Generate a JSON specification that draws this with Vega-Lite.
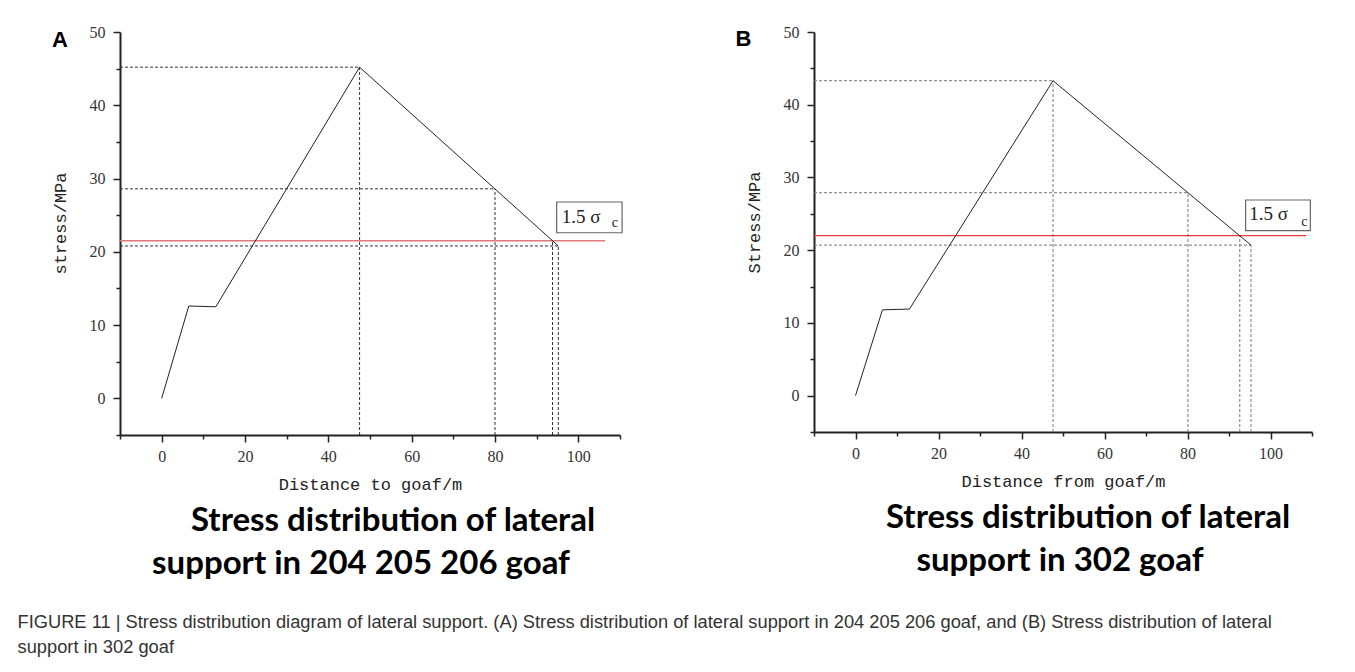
{
  "$schema": "https://vega.github.io/schema/vega-lite/v6.json",
  "background": "white",
  "padding": {"left": 17, "top": 24, "right": 5, "bottom": 5},
  "title": {
    "text": ["FIGURE 11 | Stress distribution diagram of lateral support. (A) Stress distribution of lateral support in 204 205 206 goaf, and (B) Stress distribution of lateral", "support in 302 goaf"],
    "orient": "bottom", "anchor": "start", "frame": "bounds",
    "font": "Liberation Sans", "fontSize": 18.3, "fontWeight": "normal", "color": "#333",
    "lineHeight": 25, "offset": 33, "dx": -33.5
  },
  "datasets": {
    "letA": [{"d": -26.3, "s": 48.0, "t": "A"}],
    "lineA": [{"d": 0, "s": 0}, {"d": 6.5, "s": 12.6}, {"d": 13, "s": 12.5}, {"d": 47.5, "s": 45.2}, {"d": 95.2, "s": 20.8}],
    "dashA": [
      {"d": -10, "d2": 47.5, "s": 45.2, "s2": 45.2},
      {"d": 47.5, "d2": 47.5, "s": -5, "s2": 45.2},
      {"d": -10, "d2": 80, "s": 28.6, "s2": 28.6},
      {"d": 80, "d2": 80, "s": -5, "s2": 28.6},
      {"d": -10, "d2": 95.2, "s": 20.8, "s2": 20.8},
      {"d": 95.2, "d2": 95.2, "s": -5, "s2": 20.8},
      {"d": 93.8, "d2": 93.8, "s": -5, "s2": 21.5}
    ],
    "redA": [{"d": -10, "d2": 106.4, "s": 21.5}],
    "boxA": [{"d": 94.8, "d2": 110.5, "s": 22.6, "s2": 26.8}],
    "labA": [{"d": 96.0, "s": 24.8, "t": "1.5 σ"}],
    "subA": [{"d": 108.0, "s": 23.9, "t": "c"}],
    "letB": [{"d": -28.9, "s": 48.1, "t": "B"}],
    "lineB": [{"d": 0, "s": 0}, {"d": 6.5, "s": 11.8}, {"d": 13, "s": 11.9}, {"d": 47.6, "s": 43.3}, {"d": 95.3, "s": 20.7}],
    "dashB": [
      {"d": -10, "d2": 47.6, "s": 43.3, "s2": 43.3},
      {"d": 47.6, "d2": 47.6, "s": -5, "s2": 43.3},
      {"d": -10, "d2": 80.1, "s": 27.9, "s2": 27.9},
      {"d": 80.1, "d2": 80.1, "s": -5, "s2": 27.9},
      {"d": -10, "d2": 95.3, "s": 20.7, "s2": 20.7},
      {"d": 95.3, "d2": 95.3, "s": -5, "s2": 20.7},
      {"d": 92.6, "d2": 92.6, "s": -5, "s2": 22.0}
    ],
    "redB": [{"d": -10, "d2": 108.6, "s": 22.0}],
    "boxB": [{"d": 94.0, "d2": 109.6, "s": 22.7, "s2": 26.9}],
    "labB": [{"d": 94.9, "s": 25.0, "t": "1.5 σ"}],
    "subB": [{"d": 107.4, "s": 23.9, "t": "c"}]
  },
  "spacing": 112,
  "hconcat": [
    {
      "width": 500, "height": 403,
      "title": {"text": ["\u200b\u00a0\u00a0\u00a0\u00a0\u00a0\u00a0\u00a0\u00a0Stress distribution of lateral", "support in 204 205 206 goaf"], "orient": "bottom", "anchor": "middle", "frame": "group", "font": "Lato", "fontSize": 33, "fontWeight": "bold", "color": "#000", "lineHeight": 43, "offset": 13, "dx": -9},
      "encoding": {
        "x": {"field": "d", "type": "quantitative", "scale": {"domain": [-10, 110], "nice": false, "zero": false},
              "axis": {"title": "Distance to goaf/m", "values": [-10, 0, 10, 20, 30, 40, 50, 60, 70, 80, 90, 100, 110], "labelExpr": "datum.value % 20 === 0 && datum.value >= 0 && datum.value <= 100 ? datum.label : ''", "tickSize": {"condition": {"test": "datum.value % 20 !== 0", "value": 4}, "value": 7}}},
        "y": {"field": "s", "type": "quantitative", "scale": {"domain": [-5, 50], "nice": false, "zero": false},
              "axis": {"title": "stress/MPa", "titleY": 191, "values": [-5, 0, 5, 10, 15, 20, 25, 30, 35, 40, 45, 50], "labelExpr": "datum.value % 10 === 0 && datum.value >= 0 ? datum.label : ''", "tickSize": {"condition": {"test": "datum.value % 10 !== 0", "value": 4}, "value": 7}}}
      },
      "layer": [
        {"data": {"name": "dashA"}, "mark": {"type": "rule", "strokeDash": [3, 2], "color": "#333", "strokeWidth": 1}, "encoding": {"x2": {"field": "d2"}, "y2": {"field": "s2"}}},
        {"data": {"name": "redA"}, "mark": {"type": "rule", "color": "#e07a7a", "strokeWidth": 1.5}, "encoding": {"x2": {"field": "d2"}}},
        {"data": {"name": "lineA"}, "mark": {"type": "line", "color": "#222", "strokeWidth": 1}, "encoding": {}},
        {"data": {"name": "boxA"}, "mark": {"type": "rect", "fill": "white", "stroke": "#666", "strokeWidth": 1.2}, "encoding": {"x2": {"field": "d2"}, "y2": {"field": "s2"}}},
        {"data": {"name": "labA"}, "mark": {"type": "text", "align": "left", "baseline": "middle", "font": "Liberation Serif", "fontSize": 19, "color": "#222"}, "encoding": {"text": {"field": "t"}}},
        {"data": {"name": "subA"}, "mark": {"type": "text", "align": "left", "baseline": "middle", "font": "Liberation Serif", "fontSize": 14, "color": "#222"}, "encoding": {"text": {"field": "t"}}},
        {"data": {"name": "letA"}, "mark": {"type": "text", "align": "left", "baseline": "alphabetic", "font": "Liberation Sans", "fontSize": 22, "fontWeight": "bold", "color": "#000"}, "encoding": {"text": {"field": "t"}}}
      ]
    },
    {
      "width": 498, "height": 400,
      "title": {"text": ["\u200b\u00a0\u00a0\u00a0\u00a0\u00a0\u00a0\u00a0Stress distribution of lateral", "support in 302 goaf"], "orient": "bottom", "anchor": "middle", "frame": "group", "font": "Lato", "fontSize": 33, "fontWeight": "bold", "color": "#000", "lineHeight": 43, "offset": 13, "dx": -3},
      "encoding": {
        "x": {"field": "d", "type": "quantitative", "scale": {"domain": [-10, 110], "nice": false, "zero": false},
              "axis": {"title": "Distance from goaf/m", "values": [-10, 0, 10, 20, 30, 40, 50, 60, 70, 80, 90, 100, 110], "labelExpr": "datum.value % 20 === 0 && datum.value >= 0 && datum.value <= 100 ? datum.label : ''", "tickSize": {"condition": {"test": "datum.value % 20 !== 0", "value": 4}, "value": 7}}},
        "y": {"field": "s", "type": "quantitative", "scale": {"domain": [-5, 50], "nice": false, "zero": false},
              "axis": {"title": "Stress/MPa", "titleY": 190, "values": [-5, 0, 5, 10, 15, 20, 25, 30, 35, 40, 45, 50], "labelExpr": "datum.value % 10 === 0 && datum.value >= 0 ? datum.label : ''", "tickSize": {"condition": {"test": "datum.value % 10 !== 0", "value": 4}, "value": 7}}}
      },
      "layer": [
        {"data": {"name": "dashB"}, "mark": {"type": "rule", "strokeDash": [3, 2], "color": "#777", "strokeWidth": 1}, "encoding": {"x2": {"field": "d2"}, "y2": {"field": "s2"}}},
        {"data": {"name": "redB"}, "mark": {"type": "rule", "color": "#e8383d", "strokeWidth": 1.2}, "encoding": {"x2": {"field": "d2"}}},
        {"data": {"name": "lineB"}, "mark": {"type": "line", "color": "#222", "strokeWidth": 1}, "encoding": {}},
        {"data": {"name": "boxB"}, "mark": {"type": "rect", "fill": "white", "stroke": "#666", "strokeWidth": 1.2}, "encoding": {"x2": {"field": "d2"}, "y2": {"field": "s2"}}},
        {"data": {"name": "labB"}, "mark": {"type": "text", "align": "left", "baseline": "middle", "font": "Liberation Serif", "fontSize": 19, "color": "#222"}, "encoding": {"text": {"field": "t"}}},
        {"data": {"name": "subB"}, "mark": {"type": "text", "align": "left", "baseline": "middle", "font": "Liberation Serif", "fontSize": 14, "color": "#222"}, "encoding": {"text": {"field": "t"}}},
        {"data": {"name": "letB"}, "mark": {"type": "text", "align": "left", "baseline": "alphabetic", "font": "Liberation Sans", "fontSize": 22, "fontWeight": "bold", "color": "#000"}, "encoding": {"text": {"field": "t"}}}
      ]
    }
  ],
  "config": {
    "view": {"stroke": null},
    "axis": {"grid": false, "domainColor": "#222", "domainWidth": 2, "tickColor": "#222", "tickWidth": 1.5,
             "labelFont": "Liberation Serif", "labelFontSize": 16, "labelColor": "#333",
             "titleFont": "Liberation Mono", "titleFontSize": 17, "titleFontWeight": "normal", "titleColor": "#222"},
    "axisX": {"labelPadding": 6, "titlePadding": 12, "labelFlush": false},
    "axisY": {"labelPadding": 8, "titlePadding": 20}
  }
}
